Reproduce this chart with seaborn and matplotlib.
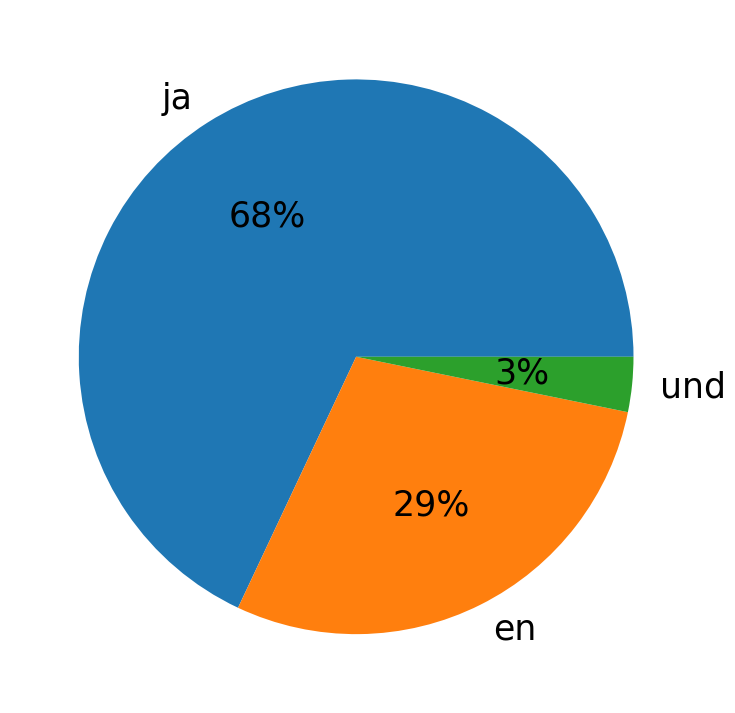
import matplotlib
matplotlib.use("Agg")
import matplotlib.pyplot as plt
import seaborn as sns

languages = ["ja", "en", "und"]
shares = [68.0, 28.8, 3.2]

colors = sns.color_palette("tab10", 3)

fig = plt.figure(figsize=(7.35, 7.13), dpi=100)
ax = fig.add_axes([0.0, 0.0, 1.0, 1.0])
ax.pie(shares, labels=languages, colors=colors, autopct="%1.0f%%",
       textprops={"fontsize": 25})
ax.set_aspect("equal")
ax.set_xlim(-1.284, 1.366)
ax.set_ylim(-1.284, 1.286)
fig.savefig("out.png", dpi=100)
